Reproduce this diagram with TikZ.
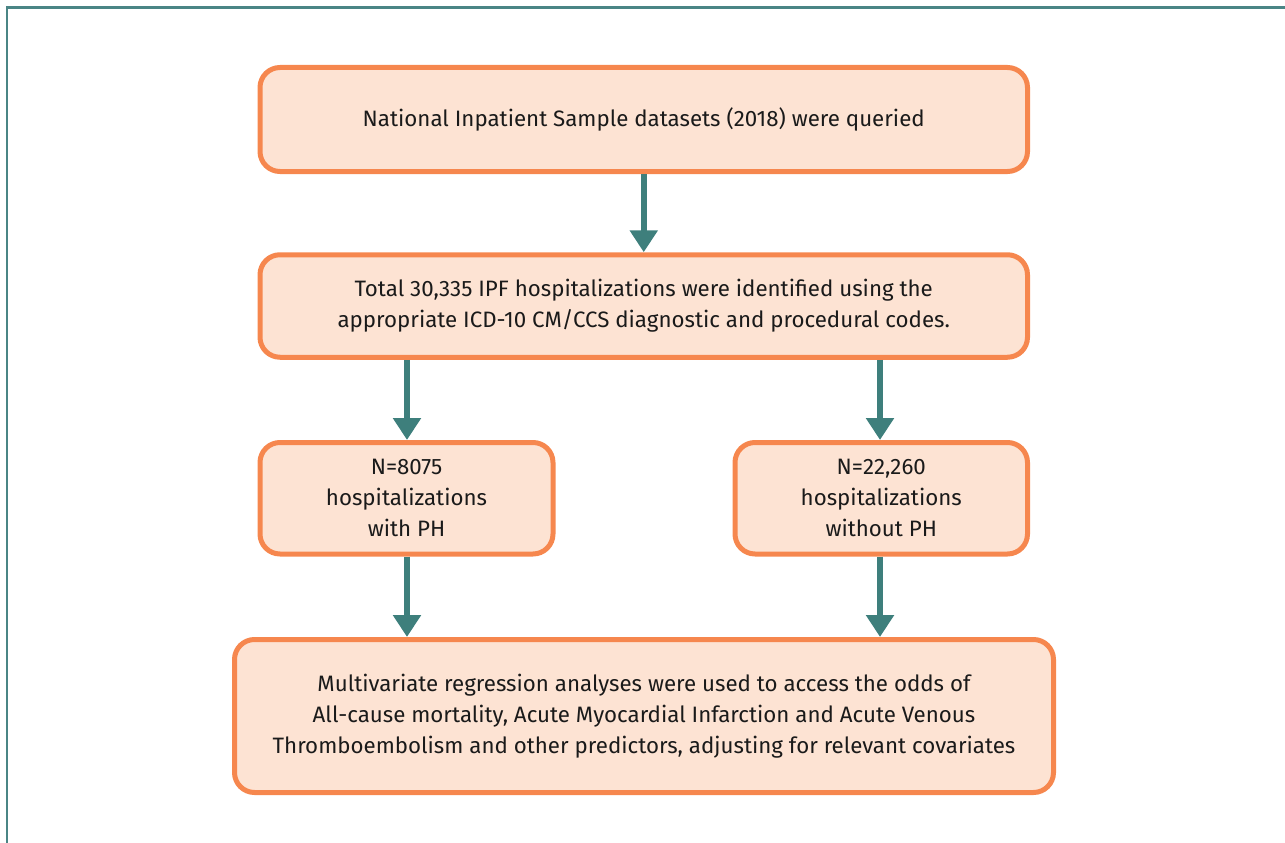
\documentclass[tikz,border=0pt]{standalone}
\usepackage{fontspec}
\setmainfont{Fira Sans}
\usetikzlibrary{arrows.meta}
\definecolor{boxline}{HTML}{F6874E}
\definecolor{boxfill}{HTML}{FDE3D3}
\definecolor{teal2}{HTML}{3E7F7C}
\definecolor{frame}{HTML}{4A8585}
\definecolor{ink}{HTML}{1A1A1A}
\tikzset{
  fbox/.style={draw=boxline, fill=boxfill, line width=5pt, rounded corners=20pt,
    outer sep=0pt, inner sep=0pt, align=center, text=ink,
    font=\fontsize{22.3}{31}\selectfont},
  farrow/.style={draw=teal2, line width=6pt,
    -{Triangle[width=27pt,length=22pt]}, shorten >=2.5pt, shorten <=2.5pt}
}
\begin{document}
\begin{tikzpicture}[x=1pt,y=-1pt]
\useasboundingbox (0,0) rectangle (1285,843);
\draw[frame, line width=2.5pt] (7,843) -- (7,7.5) -- (1285,7.5);
\node[fbox, minimum width=767.5pt, minimum height=104pt] (b1) at (643.75,119.5)
  {National Inpatient Sample datasets (2018) were queried};
\node[fbox, minimum width=767.5pt, minimum height=102.5pt] (b2) at (643.75,306)
  {Total 30,335 IPF hospitalizations were identified using the\\appropriate ICD-10 CM/CCS diagnostic and procedural codes.};
\node[fbox, minimum width=293pt, minimum height=111.5pt] (b3) at (406.5,498.25)
  {N=8075\\hospitalizations\\with PH};
\node[fbox, minimum width=292.5pt, minimum height=111.5pt] (b4) at (881.25,498.25)
  {N=22,260\\hospitalizations\\without PH};
\node[fbox, minimum width=819pt, minimum height=153pt] (b5) at (644,716)
  {Multivariate regression analyses were used to access the odds of\\All-cause mortality, Acute Myocardial Infarction and Acute Venous\\Thromboembolism and other predictors, adjusting for relevant covariates};
\draw[farrow] (b1.south) -- (b2.north);
\draw[farrow] (b2.south -| b3.north) ++(0.5,0) coordinate (s1) -- (s1 |- b3.north);
\draw[farrow] (b2.south -| 880,0) coordinate (s2) -- (s2 |- b4.north);
\draw[farrow] (b3.south -| s1) coordinate (s3) -- (s3 |- b5.north);
\draw[farrow] (b4.south -| s2) coordinate (s4) -- (s4 |- b5.north);
\end{tikzpicture}
\end{document}
